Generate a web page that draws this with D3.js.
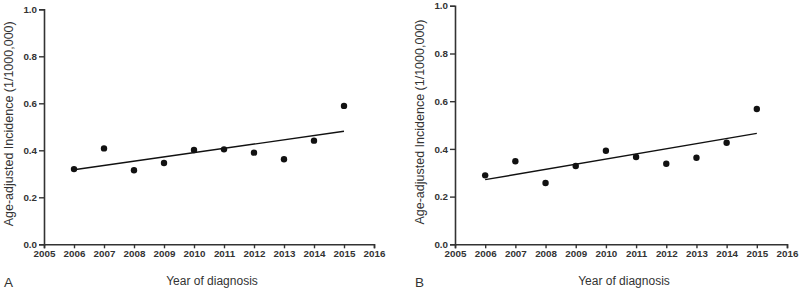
<!DOCTYPE html>
<html>
<head>
<meta charset="utf-8">
<script src="https://cdn.jsdelivr.net/npm/d3@7"></script>
<style>
  body { margin: 0; background: #fff; }
  svg { display: block; }
</style>
</head>
<body>
<div id="chart"></div>
<script>
// data
const years = [2006, 2007, 2008, 2009, 2010, 2011, 2012, 2013, 2014, 2015];
const incidenceA = [0.320, 0.408, 0.315, 0.346, 0.401, 0.404, 0.390, 0.362, 0.441, 0.589];
const incidenceB = [0.289, 0.348, 0.257, 0.328, 0.392, 0.366, 0.338, 0.363, 0.426, 0.567];
// fitted trend lines (start and end value, at 2006 and 2015)
const fitYears = [2006, 2015];
const fitA = [0.317, 0.481];
const fitB = [0.271, 0.465];
const xTicks = [2005, 2006, 2007, 2008, 2009, 2010, 2011, 2012, 2013, 2014, 2015, 2016];
const yTicks = [0.0, 0.2, 0.4, 0.6, 0.8, 1.0];

const svg = d3.select("#chart")
  .append("svg")
    .attr("width", 800)
    .attr("height", 289);

const axisColor = "#333";

function drawPanel(letter, values, fit, left, right, top, bottom) {
  const x = d3.scaleLinear().domain([2005, 2016]).range([left, right]);
  const y = d3.scaleLinear().domain([0, 1]).range([bottom, top]);

  // x axis
  const gx = svg.append("g")
    .attr("transform", `translate(0, ${bottom})`)
    .call(d3.axisBottom(x).tickValues(xTicks).tickFormat(d3.format("d")).tickSizeOuter(0).tickSize(4).tickPadding(2));
  // y axis
  const gy = svg.append("g")
    .attr("transform", `translate(${left}, 0)`)
    .call(d3.axisLeft(y).tickValues(yTicks).tickFormat(d3.format(".1f")).tickSizeOuter(0).tickSize(5).tickPadding(2));

  [gx, gy].forEach(g => {
    g.select(".domain").attr("stroke", axisColor).attr("stroke-width", 1.6);
    g.selectAll(".tick line").attr("stroke", axisColor).attr("stroke-width", 1.4);
    g.selectAll(".tick text")
      .attr("fill", "#333")
      .attr("font-family", "Liberation Sans, Arial, sans-serif")
      .attr("font-weight", "bold")
      .attr("font-size", 9.8);
  });

  // trend line
  svg.append("path")
    .datum(fitYears.map((yr, i) => ({yr, v: fit[i]})))
    .attr("fill", "none")
    .attr("stroke", "#111")
    .attr("stroke-width", 1.4)
    .attr("d", d3.line().x(d => x(d.yr)).y(d => y(d.v)));

  // points
  svg.append("g").selectAll("circle")
    .data(years.map((yr, i) => ({yr, v: values[i]})))
    .join("circle")
      .attr("cx", d => x(d.yr))
      .attr("cy", d => y(d.v))
      .attr("r", 3.2)
      .attr("fill", "#111");

  // x title
  svg.append("text")
    .attr("text-anchor", "middle")
    .attr("font-family", "Liberation Sans, Arial, sans-serif")
    .attr("font-size", 12)
    .attr("fill", "#333")
    .attr("x", (left + right) / 2 + 3)
    .attr("y", 285)
    .text("Year of diagnosis");

  // y title
  svg.append("text")
    .attr("text-anchor", "middle")
    .attr("font-family", "Liberation Sans, Arial, sans-serif")
    .attr("font-size", 12.5)
    .attr("fill", "#333")
    .attr("transform", `translate(${left - 31}, ${(top + bottom) / 2 - 3}) rotate(-90)`)
    .text("Age-adjusted Incidence (1/1000,000)");

  // panel letter
  svg.append("text")
    .attr("font-family", "Liberation Sans, Arial, sans-serif")
    .attr("font-size", 13.5)
    .attr("fill", "#333")
    .attr("x", left - 40)
    .attr("y", 287)
    .text(letter);
}

drawPanel("A", incidenceA, fitA, 44, 374, 9.3, 244.3);
drawPanel("B", incidenceB, fitB, 455, 787, 5.8, 244.3);
</script>
</body>
</html>
